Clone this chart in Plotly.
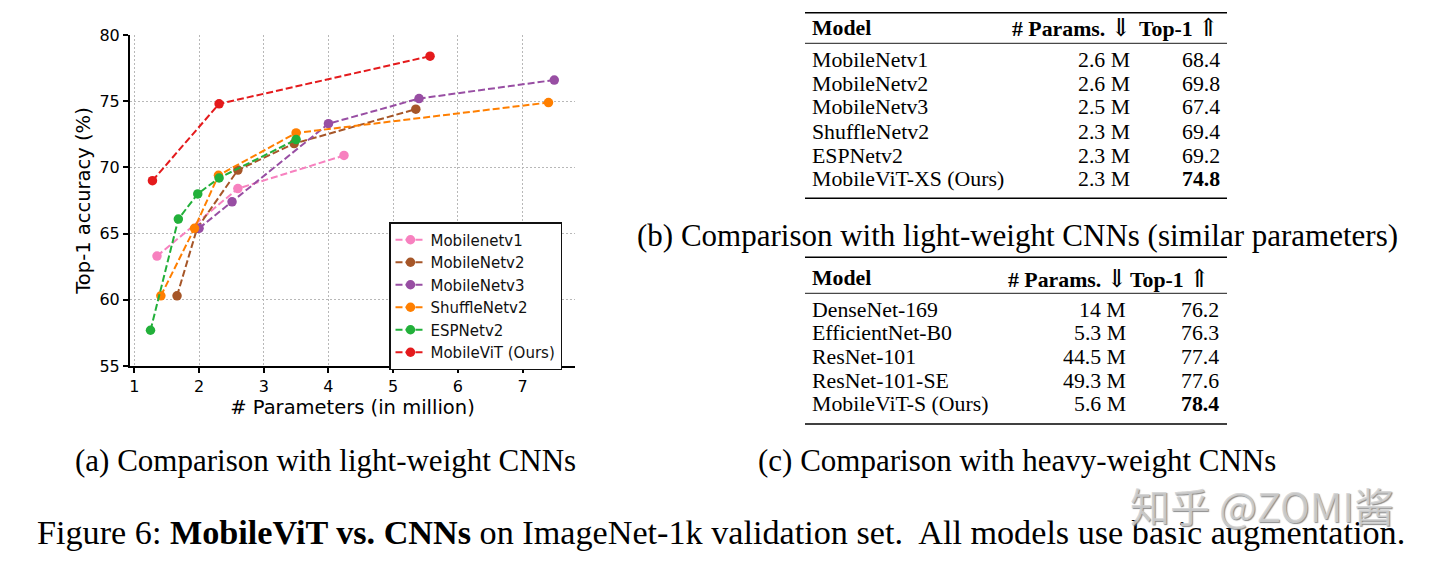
import plotly.graph_objects as go

W, H = 1440, 564

# ---------------- data ----------------
series_names = ["Mobilenetv1", "MobileNetv2", "MobileNetv3", "ShuffleNetv2", "ESPNetv2", "MobileViT (Ours)"]
series_colors = ["#f781bf", "#a65628", "#984ea3", "#ff7f00", "#22b03a", "#e41a1c"]

mobilenetv1_x = [1.35, 2.6, 4.24]
mobilenetv1_y = [63.3, 68.4, 70.9]
mobilenetv2_x = [1.66, 1.97, 2.6, 3.47, 5.35]
mobilenetv2_y = [60.3, 65.4, 69.8, 71.8, 74.4]
mobilenetv3_x = [2.0, 2.51, 4.0, 5.4, 7.49]
mobilenetv3_y = [65.4, 67.4, 73.3, 75.2, 76.6]
shufflenetv2_x = [1.41, 1.93, 2.3, 3.5, 7.4]
shufflenetv2_y = [60.3, 65.4, 69.4, 72.6, 74.9]
espnetv2_x = [1.25, 1.68, 1.98, 2.31, 3.5]
espnetv2_y = [57.7, 66.1, 68.0, 69.2, 72.1]
mobilevit_x = [1.28, 2.31, 5.57]
mobilevit_y = [69.0, 74.8, 78.4]

x_ticks = [1, 2, 3, 4, 5, 6, 7]
y_ticks = [55, 60, 65, 70, 75, 80]

table_headers = ["Model", "# Params.", "Top-1"]
header_arrows = ["", "\u21d3", "\u21d1"]

table_b_models = ["MobileNetv1", "MobileNetv2", "MobileNetv3", "ShuffleNetv2", "ESPNetv2", "MobileViT-XS (Ours)"]
table_b_params = ["2.6 M", "2.6 M", "2.5 M", "2.3 M", "2.3 M", "2.3 M"]
table_b_top1 = ["68.4", "69.8", "67.4", "69.4", "69.2", "74.8"]
table_b_bold = [False, False, False, False, False, True]

table_c_models = ["DenseNet-169", "EfficientNet-B0", "ResNet-101", "ResNet-101-SE", "MobileViT-S (Ours)"]
table_c_params = ["14 M", "5.3 M", "44.5 M", "49.3 M", "5.6 M"]
table_c_top1 = ["76.2", "76.3", "77.4", "77.6", "78.4"]
table_c_bold = [False, False, False, False, True]

caption_a = "(a) Comparison with light-weight CNNs"
caption_b = "(b) Comparison with light-weight CNNs (similar parameters)"
caption_c = "(c) Comparison with heavy-weight CNNs"
figure_caption = "Figure 6: <b>MobileViT vs. CNNs</b> on ImageNet-1k validation set.&nbsp; All models use basic augmentation."
watermark = "知乎 @ZOMI酱"


def X(p):
    return p / W


def Y(p):
    return 1 - p / H


SERIF = "Liberation Serif, Times New Roman, serif"
SANS = "DejaVu Sans, sans-serif"

fig = go.Figure()
all_x = [mobilenetv1_x, mobilenetv2_x, mobilenetv3_x, shufflenetv2_x, espnetv2_x, mobilevit_x]
all_y = [mobilenetv1_y, mobilenetv2_y, mobilenetv3_y, shufflenetv2_y, espnetv2_y, mobilevit_y]
for name, xs, ys, col in zip(series_names, all_x, all_y, series_colors):
    fig.add_trace(go.Scatter(
        x=xs, y=ys, mode="lines+markers", name=name,
        line=dict(color=col, width=2, dash="7px,3px"),
        marker=dict(size=9.5, color=col),
    ))

annotations = []
shapes = []


def text(x, y, s, size, anchor="left", family=SERIF, color="black", **kw):
    annotations.append(dict(
        x=X(x), y=Y(y), xref="paper", yref="paper", text=s, showarrow=False,
        xanchor=anchor, yanchor="middle", font=dict(family=family, size=size, color=color, **kw),
    ))


def rule(x0, x1, y, w):
    shapes.append(dict(type="line", xref="paper", yref="paper",
                       x0=X(x0), x1=X(x1), y0=Y(y), y1=Y(y),
                       line=dict(color="black", width=w)))


def header(i):
    s = "<b>%s</b>" % table_headers[i]
    if header_arrows[i]:
        s += " <span style='font-family:DejaVu Serif;font-weight:normal;font-size:25px'>%s</span>" % header_arrows[i]
    return s


def table(top, header_y, header_rule, row0, dy, bottom, models, params, top1, bold, pcol, tcol, hp_right, ht_right):
    left, right = 805, 1227
    rule(left, right, top, 1.6)
    rule(left, right, header_rule, 0.9)
    rule(left, right, bottom, 1.6)
    fs = 21.8
    text(810, header_y, header(0), fs)
    text(hp_right, header_y, header(1), fs, anchor="right")
    text(ht_right, header_y, header(2), fs, anchor="right")
    for i, (m, p, t, b) in enumerate(zip(models, params, top1, bold)):
        yy = row0 + dy * i
        text(810, yy, m, fs)
        text(pcol, yy, p, fs, anchor="right")
        text(tcol, yy, "<b>%s</b>" % t if b else t, fs, anchor="right")


table(12.7, 28, 43.3, 59.5, 24.0, 198.3, table_b_models, table_b_params, table_b_top1, table_b_bold,
      1132, 1222, 1134, 1221)
table(257.3, 278.3, 293.3, 309.5, 23.7, 424, table_c_models, table_c_params, table_c_top1, table_c_bold,
      1128, 1221, 1130, 1212)

text(325, 460, caption_a, 31, anchor="center")
text(1017, 235, caption_b, 31, anchor="center")
text(1017, 460, caption_c, 31, anchor="center")
text(721, 532, figure_caption, 34.2, anchor="center")
text(1262, 505, watermark, 40, anchor="center", family="Noto Sans CJK SC",
     color="rgba(210,210,210,0.85)", shadow="1px 1px 1px #777")

axis_common = dict(
    showgrid=True, gridcolor="#b8b8b8", gridwidth=1, griddash="2px,2px",
    showline=True, linecolor="black", linewidth=2, mirror=False,
    ticks="outside", ticklen=5, tickwidth=1.5, tickcolor="black",
    tickfont=dict(family=SANS, size=16, color="black"),
    zeroline=False, automargin=False,
)

fig.update_layout(
    width=W, height=H,
    margin=dict(l=0, r=0, t=0, b=0, pad=0, autoexpand=False),
    paper_bgcolor="white", plot_bgcolor="white",
    xaxis=dict(domain=[X(130), X(575)], range=[0.933, 7.81], tickvals=x_ticks,
               title=dict(text="# Parameters (in million)", font=dict(family=SANS, size=19.5, color="black"), standoff=3),
               **axis_common),
    yaxis=dict(domain=[Y(366), Y(35)], range=[55, 80], tickvals=y_ticks,
               title=dict(text="Top-1 accuracy (%)", font=dict(family=SANS, size=19.5, color="black"), standoff=4),
               **axis_common),
    legend=dict(x=X(389), y=Y(222), xanchor="left", yanchor="top",
                bgcolor="white", bordercolor="#111", borderwidth=1.5,
                font=dict(family=SANS, size=15, color="#111")),
    annotations=annotations, shapes=shapes,
    showlegend=True,
)

fig.write_html("out.html", config={"displayModeBar": False},
               post_script="document.body.style.margin='0';document.body.style.overflow='hidden';")
